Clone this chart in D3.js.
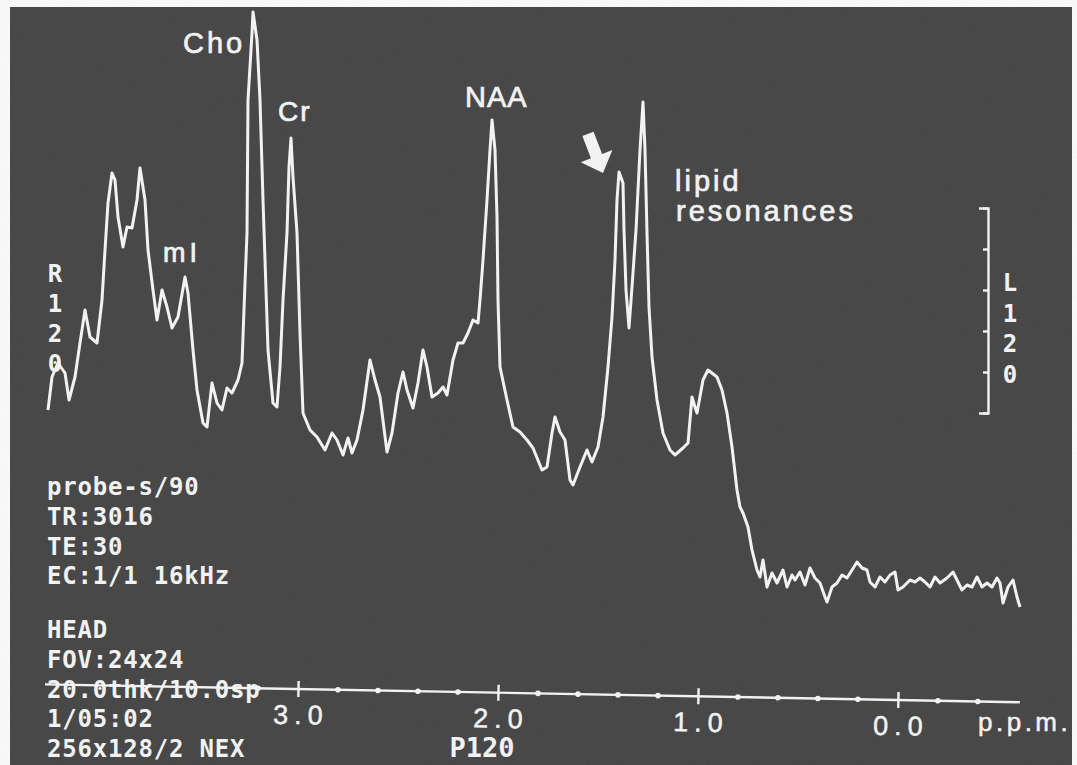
<!DOCTYPE html>
<html>
<head>
<meta charset="utf-8">
<script src="https://cdn.jsdelivr.net/npm/d3@7"></script>
<style>
  body { margin: 0; background: #fff; }
  svg { display: block; }
</style>
</head>
<body>
<svg width="1077" height="765"></svg>
<script>
// chemical shift (ppm) and signal (arbitrary units)
const ppm = [4.25, 4.23, 4.2, 4.165, 4.145, 4.115, 4.09, 4.065, 4.04, 4.005, 3.98, 3.965, 3.95, 3.93, 3.915, 3.9, 3.875, 3.855, 3.83, 3.805,
  3.79, 3.765, 3.75, 3.725, 3.705, 3.68, 3.655, 3.63, 3.6, 3.565, 3.55, 3.525, 3.505, 3.475, 3.455, 3.43, 3.405, 3.38, 3.355, 3.33,
  3.3, 3.28, 3.265, 3.255, 3.25, 3.23, 3.225, 3.205, 3.19, 3.175, 3.15, 3.125, 3.105, 3.09, 3.075, 3.055, 3.045, 3.035, 3.025, 3.005,
  2.99, 2.975, 2.94, 2.905, 2.865, 2.83, 2.805, 2.775, 2.75, 2.73, 2.705, 2.675, 2.64, 2.615, 2.59, 2.555, 2.53, 2.5, 2.475, 2.455,
  2.425, 2.4, 2.375, 2.355, 2.33, 2.3, 2.275, 2.255, 2.225, 2.2, 2.175, 2.15, 2.125, 2.1, 2.09, 2.075, 2.055, 2.04, 2.03, 2.015,
  2.005, 2.0, 1.99, 1.955, 1.925, 1.89, 1.855, 1.825, 1.78, 1.755, 1.73, 1.715, 1.69, 1.665, 1.64, 1.625, 1.59, 1.555, 1.53, 1.5,
  1.475, 1.45, 1.43, 1.415, 1.405, 1.395, 1.375, 1.37, 1.36, 1.345, 1.325, 1.31, 1.29, 1.275, 1.265, 1.255, 1.245, 1.23, 1.205, 1.175,
  1.14, 1.115, 1.075, 1.05, 1.03, 1.015, 1.005, 0.975, 0.95, 0.905, 0.88, 0.855, 0.83, 0.805, 0.79, 0.775, 0.75, 0.73, 0.705, 0.69,
  0.675, 0.655, 0.63, 0.605, 0.575, 0.555, 0.53, 0.515, 0.49, 0.465, 0.44, 0.415, 0.39, 0.365, 0.355, 0.33, 0.305, 0.28, 0.255, 0.23,
  0.205, 0.18, 0.155, 0.14, 0.115, 0.09, 0.065, 0.04, 0.015, 0.0, -0.025, -0.06, -0.085, -0.11, -0.135, -0.16, -0.185, -0.21, -0.245, -0.275,
  -0.3, -0.32, -0.345, -0.37, -0.395, -0.42, -0.445, -0.47, -0.495, -0.51, -0.525, -0.55, -0.575, -0.595, -0.61];
const signal = [23.0, 26.3, 27.7, 26.7, 24.0, 26.3, 29.7, 33.0, 30.3, 29.7, 34.0, 39.0, 43.7, 46.7, 46.0, 42.3, 39.3, 41.3, 41.2, 44.0,
  47.2, 44.0, 39.0, 35.0, 32.0, 35.0, 33.3, 31.2, 32.3, 36.3, 34.7, 29.0, 25.0, 21.7, 21.3, 25.7, 23.7, 23.0, 25.2, 24.7,
  26.0, 27.7, 35.7, 40.7, 54.0, 60.7, 62.8, 60.0, 54.0, 44.0, 29.0, 23.7, 23.3, 27.3, 34.0, 40.7, 47.3, 50.2, 46.3, 40.7,
  30.7, 22.7, 21.0, 20.3, 19.0, 20.7, 20.0, 18.5, 20.2, 18.7, 20.0, 23.0, 28.0, 26.0, 24.3, 18.8, 20.7, 24.7, 26.8, 25.0,
  23.2, 25.7, 29.0, 27.3, 24.3, 24.7, 25.3, 24.5, 28.0, 29.7, 29.7, 30.7, 32.0, 31.7, 34.0, 38.0, 44.0, 49.0, 52.0, 49.0,
  42.3, 34.0, 27.3, 24.0, 21.3, 20.8, 20.0, 19.2, 17.0, 17.3, 20.7, 22.3, 20.8, 20.0, 16.0, 15.5, 17.3, 19.0, 17.8, 19.3,
  22.3, 27.3, 32.3, 38.0, 44.0, 46.8, 45.7, 41.0, 35.0, 31.2, 36.7, 41.0, 49.0, 53.8, 49.0, 40.7, 33.3, 28.3, 24.0, 20.7,
  19.0, 18.5, 19.2, 19.7, 24.3, 23.3, 22.7, 26.0, 27.0, 26.3, 25.0, 22.7, 19.3, 15.0, 13.3, 12.7, 11.3, 9.0, 7.0, 6.3,
  8.0, 5.3, 6.7, 5.7, 7.0, 5.3, 6.5, 6.0, 6.8, 5.5, 7.2, 6.2, 5.7, 4.3, 3.8, 5.3, 5.7, 6.5, 6.2, 7.0,
  7.8, 7.2, 7.0, 5.8, 5.3, 6.3, 5.8, 6.5, 6.8, 5.0, 5.3, 6.0, 5.8, 6.2, 5.8, 5.3, 6.3, 5.7, 6.2, 6.8,
  5.8, 5.0, 5.5, 5.3, 6.3, 5.3, 5.7, 5.3, 6.2, 5.7, 3.7, 5.3, 6.0, 4.3, 3.3];

const majorTicks = [3, 2, 1, 0];
const minorTicks = [3.2, 2.8, 2.6, 2.4, 2.2, 1.8, 1.6, 1.4, 1.2, 0.8, 0.6, 0.4, 0.2, -0.2, -0.4];
const scaleMarks = [0, 1, 2, 3, 4, 5];

const scanInfo = ["probe-s/90", "TR:3016", "TE:30", "EC:1/1 16kHz"];
const headInfo = ["HEAD", "FOV:24x24", "20.0thk/10.0sp", "1/05:02", "256x128/2 NEX"];
const rightLabel = ["R", "1", "2", "0"];
const leftLabel = ["L", "1", "2", "0"];

const ink = "#f2f2f2";
const svg = d3.select("svg");

const defs = svg.append("defs");
const grain = defs.append("filter").attr("id", "grain");
grain.append("feTurbulence").attr("type", "fractalNoise").attr("baseFrequency", 0.85)
  .attr("numOctaves", 2).attr("seed", 7);
grain.append("feColorMatrix").attr("type", "matrix")
  .attr("values", "0.33 0.33 0.33 0 0  0.33 0.33 0.33 0 0  0.33 0.33 0.33 0 0  0 0 0 0 1");

// photo of the screen
svg.append("rect").attr("x", 10).attr("y", 7).attr("width", 1062).attr("height", 758).attr("fill", "#3b3b3b");
svg.append("rect").attr("x", 10).attr("y", 7).attr("width", 1062).attr("height", 758)
  .attr("filter", "url(#grain)").attr("opacity", 0.1);

const x = d3.scaleLinear().domain([3, 0]).range([298, 898]);
const y = d3.scaleLinear().domain([0, 64]).range([640, 0]);

const data = ppm.map((p, i) => ({ p: p, v: signal[i] }));

const line = d3.line()
  .x(d => x(d.p))
  .y(d => y(d.v))
  .curve(d3.curveLinear);

svg.append("path")
  .datum(data)
  .attr("fill", "none")
  .attr("stroke", ink)
  .attr("stroke-width", 3)
  .attr("stroke-linejoin", "round")
  .attr("d", line);

// ppm axis (slightly tilted in the photo)
const axisG = svg.append("g")
  .attr("transform", "translate(0,689) rotate(1.05,298,0)");

axisG.append("line")
  .attr("x1", 45).attr("x2", x(-0.61))
  .attr("y1", 0).attr("y2", 0)
  .attr("stroke", ink).attr("stroke-width", 2.4);

axisG.call(d3.axisBottom(x).tickValues(majorTicks).tickSize(8).tickFormat(d3.format(".1f")));
axisG.select(".domain").remove();
axisG.selectAll(".tick line").attr("y1", -8).attr("y2", 8).attr("stroke", ink).attr("stroke-width", 2.4);
axisG.selectAll(".tick text")
  .attr("y", 16).attr("dy", "0.71em")
  .attr("fill", ink)
  .attr("font-family", "'Liberation Sans', Arial, sans-serif")
  .attr("font-size", 27)
  .attr("letter-spacing", 6)
  .attr("dx", 3)
  .attr("stroke", ink).attr("stroke-width", 0.5);

axisG.selectAll(".minor")
  .data(minorTicks)
  .enter()
  .append("circle")
  .attr("class", "minor")
  .attr("cx", d => x(d))
  .attr("cy", 0)
  .attr("r", 2.8)
  .attr("fill", ink);

svg.append("text")
  .attr("x", 978).attr("y", 731)
  .attr("fill", ink)
  .attr("font-family", "'Liberation Sans', Arial, sans-serif")
  .attr("font-size", 26)
  .attr("letter-spacing", 3.5)
  .attr("stroke", ink).attr("stroke-width", 0.5)
  .text("p.p.m.");

// intensity bracket on the right
const s = d3.scaleLinear().domain([0, 5]).range([413, 208]);
const bracket = svg.append("g").attr("transform", "translate(988,0)")
  .call(d3.axisLeft(s).tickValues(scaleMarks).tickSizeInner(5).tickSizeOuter(9).tickFormat(""));
bracket.selectAll("path, line").attr("stroke", ink).attr("stroke-width", 2.4);

// peak annotations
const sans = "'Liberation Sans', Arial, sans-serif";
function note(txt, px, py, size, ls) {
  svg.append("text")
    .attr("x", px).attr("y", py)
    .attr("fill", ink)
    .attr("stroke", ink).attr("stroke-width", 0.7)
    .attr("font-family", sans)
    .attr("font-size", size)
    .attr("letter-spacing", ls)
    .text(txt);
}
note("Cho", 183, 53, 29, 3);
note("Cr", 278, 121, 28, 2);
note("mI", 163, 262, 27, 4);
note("NAA", 465, 107, 29, 1);
note("lipid", 675, 191, 29, 3);
note("resonances", 676, 221, 29, 3);

// arrow pointing at the lipid peak
svg.append("path")
  .attr("d", "M0,0 L-18,-17 L-18,-6 L-42,-6 L-42,6 L-18,6 L-18,17 Z")
  .attr("transform", "translate(603,173) rotate(69)")
  .attr("fill", ink);

// side labels
const mono = "'DejaVu Sans Mono', monospace";
svg.selectAll(".rlab")
  .data(rightLabel)
  .enter()
  .append("text")
  .attr("class", "rlab")
  .attr("x", 55)
  .attr("y", (d, i) => 282 + i * 30)
  .attr("text-anchor", "middle")
  .attr("fill", ink)
  .attr("font-family", mono)
  .attr("font-weight", "bold")
  .attr("font-size", 24)
  .text(d => d);

svg.selectAll(".llab")
  .data(leftLabel)
  .enter()
  .append("text")
  .attr("class", "llab")
  .attr("x", 1010)
  .attr("y", (d, i) => 291 + i * 30.7)
  .attr("text-anchor", "middle")
  .attr("fill", ink)
  .attr("font-family", mono)
  .attr("font-weight", "bold")
  .attr("font-size", 24)
  .text(d => d);

// acquisition parameters
function block(lines, top) {
  svg.append("g").selectAll("text")
    .data(lines)
    .enter()
    .append("text")
    .attr("x", 47)
    .attr("y", (d, i) => top + i * 29.8)
    .attr("fill", ink)
    .attr("font-family", mono)
    .attr("font-weight", "bold")
    .attr("font-size", 24)
    .attr("letter-spacing", 0.8)
    .text(d => d);
}
block(scanInfo, 495);
block(headInfo, 638);

svg.append("text")
  .attr("x", 482).attr("y", 757)
  .attr("text-anchor", "middle")
  .attr("fill", ink)
  .attr("font-family", mono)
  .attr("font-weight", "bold")
  .attr("font-size", 27)
  .text("P120");
</script>
</body>
</html>
